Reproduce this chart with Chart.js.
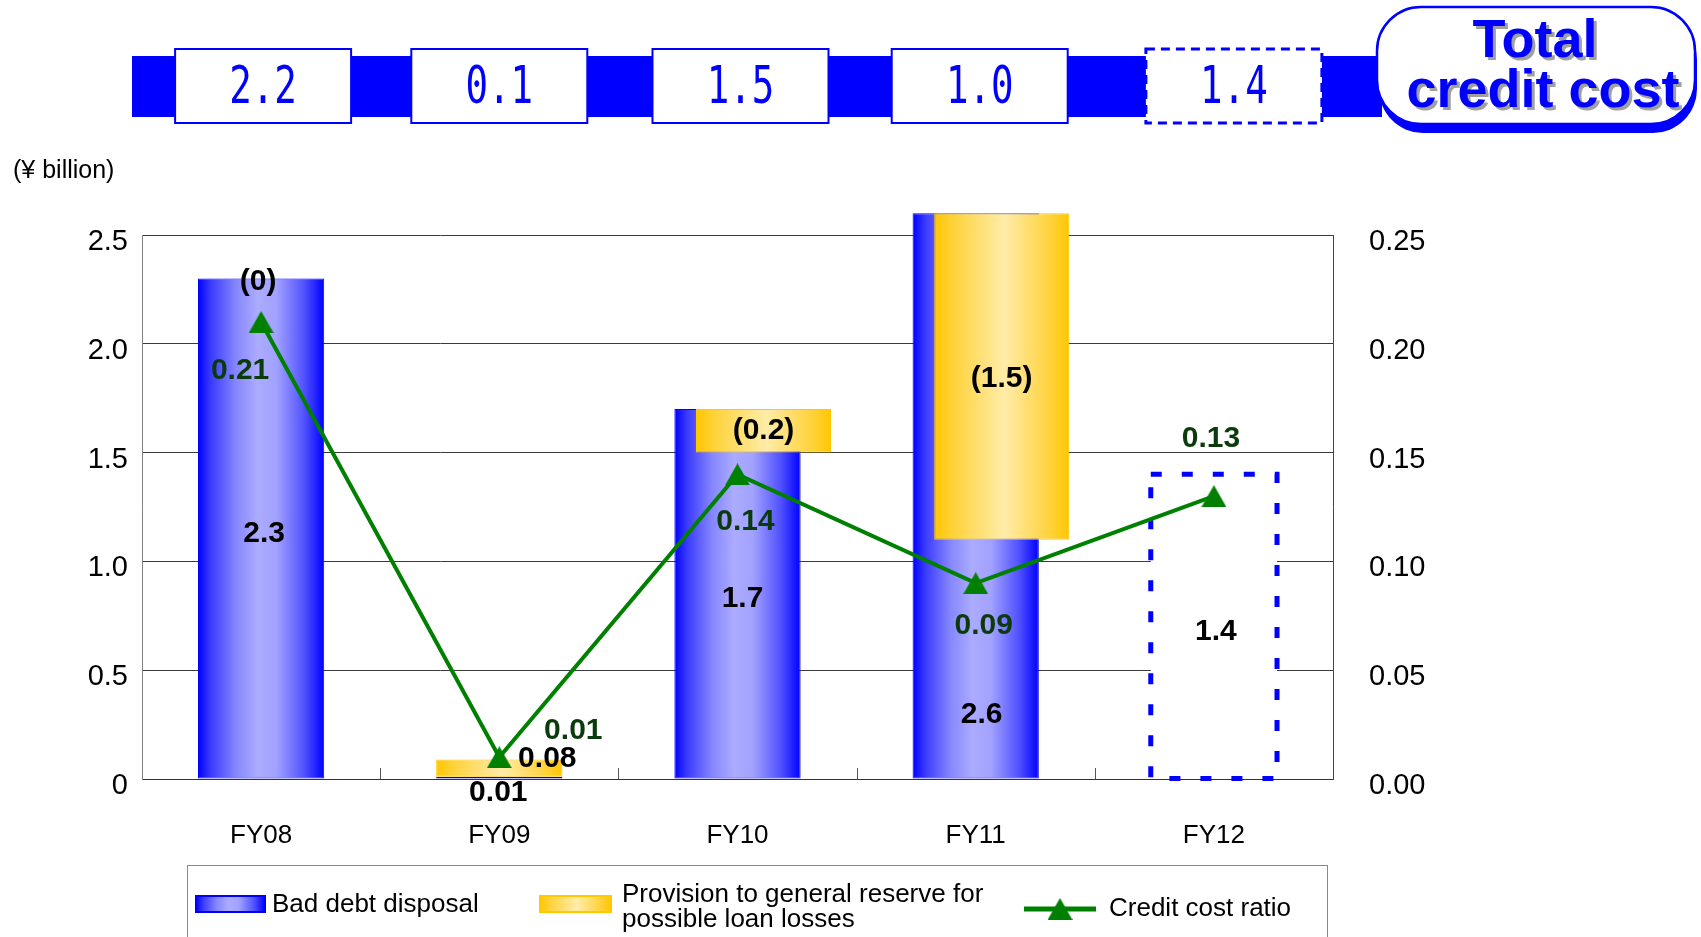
<!DOCTYPE html>
<html>
<head>
<meta charset="utf-8">
<title>Credit cost</title>
<script src="https://cdn.jsdelivr.net/npm/chart.js@4.4.1/dist/chart.umd.min.js"></script>
<style>
  html, body { margin: 0; padding: 0; background: #ffffff; }
  #wrap { position: relative; width: 1701px; height: 937px; }
</style>
</head>
<body>
<div id="wrap"><canvas id="chart"></canvas></div>
<script>
// ---- data ----
const fiscalYears = ['FY08', 'FY09', 'FY10', 'FY11', 'FY12'];
const badDebtDisposal = [2.3, 0.01, 1.7, 2.6, null];        // ¥ billion
const provisionGeneral = [0, 0.08, -0.2, -1.5, null];       // ¥ billion (negative = reversal)
const plannedCost = [null, null, null, null, 1.4];          // FY12 plan, ¥ billion
const creditCostRatio = [0.21, 0.01, 0.14, 0.09, 0.13];     // %
const totalCreditCost = [2.2, 0.1, 1.5, 1.0, 1.4];          // ¥ billion
const leftTicks = [0, 0.5, 1.0, 1.5, 2.0, 2.5];
const rightTicks = [0, 0.05, 0.10, 0.15, 0.20, 0.25];

// provision bars float on top of the bad debt bar (downward when negative)
const provisionRange = provisionGeneral.map((v, i) => {
  if (v === null || v === 0) return null;
  const base = badDebtDisposal[i];
  return v < 0 ? [base + v, base] : [base, base + v];
});

// ---- styling ----
const FONT = '"Liberation Sans", Arial, sans-serif';
const BAR_PCT = 0.53;
const BLUE_STOPS = [[0, '#0000ff'], [0.1, '#3a3aff'], [0.3, '#8686ff'], [0.47, '#ababff'], [0.62, '#a2a2ff'], [0.84, '#5252ff'], [1, '#0000ff']];
const GOLD_STOPS = [[0, '#ffc600'], [0.15, '#ffd33e'], [0.52, '#ffeca8'], [0.85, '#ffd33e'], [1, '#ffc600']];
const PROV_SHIFT = [0, 0, 26, 26, 0];       // px the provision bar sits right of the category centre
const PROV_WIDTH = [null, null, 135, 135, null];
const DS = { ratio: 0, provision: 1, badDebt: 2, plan: 3 };

function hGradient(ctx, left, right, stops) {
  const g = ctx.createLinearGradient(left, 0, right, 0);
  stops.forEach(([o, c]) => g.addColorStop(o, c));
  return g;
}

function barFill(stops, shifts, widths) {
  return (c) => {
    const chart = c.chart;
    const xs = chart.scales && chart.scales.x;
    if (!xs || !chart.chartArea) return stops[2][1];
    const i = c.dataIndex;
    const w = (widths && widths[i]) || (xs.width / fiscalYears.length) * BAR_PCT;
    const cx = xs.getPixelForValue(i) + (shifts ? shifts[i] : 0);
    return hGradient(chart.ctx, cx - w / 2, cx + w / 2, stops);
  };
}

function makeTriangle(w, h, color) {
  const cv = document.createElement('canvas');
  cv.width = w; cv.height = h;
  const g = cv.getContext('2d');
  g.fillStyle = color;
  g.beginPath();
  g.moveTo(w / 2, 0); g.lineTo(w, h); g.lineTo(0, h); g.closePath();
  g.fill();
  return cv;
}
const triangleMark = makeTriangle(25, 22, '#008000');

function fmtProvision(v) { return v <= 0 ? '(' + Math.abs(v) + ')' : v.toFixed(2); }

// label offsets (px) from their anchors
const BAD_DEBT_LABEL_OFF = [[3, 5], [-1, 15], [5, 5], [6, 219], [2, 5]];
const PROV_LABEL_OFF = [[-3, 3], [48, -9], [0, 0], [0, 2], [0, 0]];
const RATIO_LABEL_OFF = [[-21, 49], [74, -27], [8, 47], [8, 43], [-3, -57]];
const TOP_BOX_SHIFT = [2, 0, 3, 4, 20];

function text(ctx, str, x, y, font, color, align) {
  ctx.font = font;
  ctx.fillStyle = color;
  ctx.textAlign = align || 'center';
  ctx.textBaseline = 'middle';
  ctx.fillText(str, x, y);
}

const decorations = {
  id: 'decorations',
  afterDatasetsUpdate(chart) {
    const meta = chart.getDatasetMeta(DS.provision);
    meta.data.forEach((el, i) => {
      el.x += PROV_SHIFT[i];
      if (PROV_WIDTH[i]) el.width = PROV_WIDTH[i];
    });
  },
  afterDatasetDraw(chart, args) {
    if (args.index !== DS.plan) return;
    const ctx = chart.ctx;
    chart.getDatasetMeta(DS.plan).data.forEach((el, i) => {
      if (plannedCost[i] === null) return;
      const l = el.x - el.width / 2, r = el.x + el.width / 2;
      ctx.save();
      ctx.strokeStyle = '#0000ff';
      ctx.lineWidth = 5;
      ctx.setLineDash([11, 20]);
      ctx.strokeRect(l, el.y, r - l, el.base - el.y);
      ctx.restore();
    });
  },
  afterDraw(chart) {
    const ctx = chart.ctx;
    const xs = chart.scales.x;
    const area = chart.chartArea;
    ctx.save();

    // category separator ticks on the baseline
    ctx.strokeStyle = '#555';
    ctx.lineWidth = 1;
    for (let i = 0; i < fiscalYears.length - 1; i++) {
      const px = Math.round((xs.getPixelForValue(i) + xs.getPixelForValue(i + 1)) / 2) + 0.5;
      ctx.beginPath(); ctx.moveTo(px, area.bottom); ctx.lineTo(px, area.bottom - 11); ctx.stroke();
    }

    // value labels
    const bold = 'bold 30px ' + FONT;
    const bd = chart.getDatasetMeta(DS.badDebt).data;
    const pv = chart.getDatasetMeta(DS.provision).data;
    const pl = chart.getDatasetMeta(DS.plan).data;
    const ln = chart.getDatasetMeta(DS.ratio).data;
    fiscalYears.forEach((_, i) => {
      let el = badDebtDisposal[i] !== null ? bd[i] : pl[i];
      let val = badDebtDisposal[i] !== null ? badDebtDisposal[i] : plannedCost[i];
      const mid = (el.y + el.base) / 2;
      text(ctx, String(val), el.x + BAD_DEBT_LABEL_OFF[i][0], mid + BAD_DEBT_LABEL_OFF[i][1], bold, '#000');

      if (provisionGeneral[i] !== null) {
        let ax, ay;
        if (provisionRange[i]) { ax = pv[i].x; ay = (pv[i].y + pv[i].base) / 2; }
        else { ax = bd[i].x; ay = bd[i].y; }
        text(ctx, fmtProvision(provisionGeneral[i]), ax + PROV_LABEL_OFF[i][0], ay + PROV_LABEL_OFF[i][1], bold, '#000');
      }
      text(ctx, creditCostRatio[i].toFixed(2), ln[i].x + RATIO_LABEL_OFF[i][0], ln[i].y + RATIO_LABEL_OFF[i][1], bold, '#0b3b0b');
    });

    // unit caption
    text(ctx, '(¥ billion)', 13, 171, '25px ' + FONT, '#000', 'left');

    // total credit cost band
    ctx.fillStyle = '#0000ff';
    ctx.fillRect(132, 56, 1250, 61);
    totalCreditCost.forEach((v, i) => {
      const cx = xs.getPixelForValue(i) + TOP_BOX_SHIFT[i];
      const bx = cx - 88, by = 49, bw = 176, bh = 74;
      ctx.fillStyle = '#ffffff';
      ctx.fillRect(bx, by, bw, bh);
      ctx.strokeStyle = '#0000ff';
      if (i === totalCreditCost.length - 1) { ctx.lineWidth = 3; ctx.setLineDash([9, 6]); }
      else { ctx.lineWidth = 2; ctx.setLineDash([]); }
      ctx.strokeRect(bx, by, bw, bh);
      ctx.setLineDash([]);
      ctx.save();
      ctx.translate(cx, 90);
      ctx.scale(0.78, 1.08);
      text(ctx, v.toFixed(1), 0, 0, '48px "DejaVu Sans Mono", monospace', '#0000ff');
      ctx.restore();
    });

    // "Total credit cost" badge
    const rx = 1377, ry = 7, rw = 318, rh = 117, rr = 44;
    ctx.fillStyle = '#0000ff';
    ctx.beginPath(); ctx.roundRect(rx + 2, ry + 9, rw, rh, rr); ctx.fill();
    ctx.fillStyle = '#ffffff';
    ctx.beginPath(); ctx.roundRect(rx, ry, rw, rh, rr); ctx.fill();
    ctx.strokeStyle = '#0000ff'; ctx.lineWidth = 2.5;
    ctx.stroke();
    ctx.save();
    ctx.shadowColor = '#a0a0a0'; ctx.shadowOffsetX = 3; ctx.shadowOffsetY = 3; ctx.shadowBlur = 0;
    ctx.font = 'bold 54px ' + FONT; ctx.fillStyle = '#0000ff'; ctx.textAlign = 'center'; ctx.textBaseline = 'alphabetic';
    ctx.fillText('Total', 1535, 57);
    ctx.fillText('credit cost', 1543, 107);
    ctx.restore();

    // legend
    ctx.strokeStyle = '#8a8a8a'; ctx.lineWidth = 1;
    ctx.strokeRect(187.5, 865.5, 1140, 100);
    const lf = '26px ' + FONT;
    ctx.fillStyle = hGradient(ctx, 196, 265, BLUE_STOPS);
    ctx.fillRect(196, 896, 69, 16);
    ctx.strokeStyle = '#0000ff'; ctx.lineWidth = 2; ctx.strokeRect(196, 896, 69, 16);
    text(ctx, chart.data.datasets[DS.badDebt].label, 272, 905, lf, '#000', 'left');
    ctx.fillStyle = hGradient(ctx, 540, 611, GOLD_STOPS);
    ctx.fillRect(540, 896, 71, 16);
    ctx.strokeStyle = '#ffc800'; ctx.lineWidth = 2; ctx.strokeRect(540, 896, 71, 16);
    text(ctx, 'Provision to general reserve for', 622, 895, lf, '#000', 'left');
    text(ctx, 'possible loan losses', 622, 920, lf, '#000', 'left');
    ctx.strokeStyle = '#008000'; ctx.lineWidth = 5;
    ctx.beginPath(); ctx.moveTo(1024, 909); ctx.lineTo(1096, 909); ctx.stroke();
    ctx.drawImage(triangleMark, 1060 - 12.5, 909 - 11);
    text(ctx, chart.data.datasets[DS.ratio].label, 1109, 909, lf, '#000', 'left');

    ctx.restore();
  }
};

const tickFont = { family: FONT, size: 29 };

new Chart(document.getElementById('chart'), {
  type: 'bar',
  data: {
    labels: fiscalYears,
    datasets: [
      {
        type: 'line', label: 'Credit cost ratio', data: creditCostRatio, yAxisID: 'y1',
        borderColor: '#008000', backgroundColor: '#008000', borderWidth: 4, tension: 0,
        pointStyle: triangleMark, pointRadius: 12, order: 0, clip: false
      },
      {
        label: 'Provision to general reserve for possible loan losses', data: provisionRange,
        backgroundColor: barFill(GOLD_STOPS, PROV_SHIFT, PROV_WIDTH), borderColor: '#ffc800', borderWidth: 1,
        borderSkipped: false, grouped: false, order: 1, clip: false
      },
      {
        label: 'Bad debt disposal', data: badDebtDisposal,
        backgroundColor: barFill(BLUE_STOPS), borderColor: '#0000ff', borderWidth: 1,
        borderSkipped: false, grouped: false, order: 2, clip: false
      },
      {
        label: 'Plan', data: plannedCost, backgroundColor: '#ffffff', borderWidth: 0,
        grouped: false, order: 3, clip: false
      }
    ]
  },
  options: {
    responsive: true,
    maintainAspectRatio: false,
    animation: false,
    events: [],
    categoryPercentage: 1,
    barPercentage: BAR_PCT,
    layout: { padding: { top: 235, left: 0, right: 0, bottom: 0 } },
    plugins: { legend: { display: false }, tooltip: { enabled: false } },
    scales: {
      x: {
        offset: true,
        grid: { display: false, drawTicks: false },
        border: { display: true, color: '#333', width: 1 },
        ticks: { color: '#000', font: { family: FONT, size: 26 }, padding: 41, maxRotation: 0 },
        afterFit: (s) => { s.height = 158; }
      },
      y: {
        position: 'left', min: 0, max: 2.5,
        afterBuildTicks: (s) => { s.ticks = leftTicks.map(v => ({ value: v })); },
        ticks: { color: '#000', font: tickFont, padding: 14, labelOffset: 7,
                 callback: (v) => v === 0 ? '0' : Number(v).toFixed(1) },
        grid: { color: '#3a3a3a', lineWidth: 1, drawTicks: false },
        border: { display: true, color: '#808080', width: 1 },
        afterFit: (s) => { s.width = 142; }
      },
      y1: {
        position: 'right', min: 0, max: 0.25,
        afterBuildTicks: (s) => { s.ticks = rightTicks.map(v => ({ value: v })); },
        ticks: { color: '#000', font: tickFont, padding: 36, labelOffset: 7,
                 callback: (v) => Number(v).toFixed(2) },
        grid: { display: false, drawTicks: false },
        border: { display: true, color: '#444', width: 1 },
        afterFit: (s) => { s.width = 368; }
      }
    }
  },
  plugins: [decorations]
});
</script>
</body>
</html>
